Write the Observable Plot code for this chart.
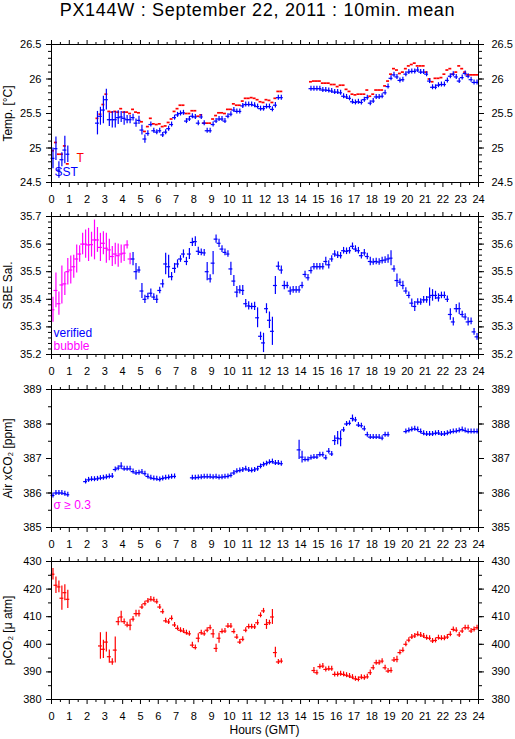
<!DOCTYPE html>
<html><head><meta charset="utf-8">
<script src="https://cdn.jsdelivr.net/npm/d3@7"></script>
<script src="https://cdn.jsdelivr.net/npm/@observablehq/plot@0.6"></script>
<style>
body{margin:0;background:#fff;font-family:"Liberation Sans",Arial,sans-serif;}
#wrap{position:relative;width:515px;height:739px;overflow:hidden;background:#fff}
#title{position:absolute;left:0;width:515px;top:0;line-height:20px;text-align:center;font-size:18px;letter-spacing:0.7px;color:#000}
.panel{position:absolute;left:0}
#xlabel{position:absolute;left:51px;width:427px;text-align:center;top:723px;line-height:14px;font-size:12px;color:#000}
</style></head>
<body><div id="wrap">
<div id="title">PX144W : September 22, 2011 : 10min. mean</div>
<div class="panel" id="p1" style="top:36px"></div>
<div class="panel" id="p2" style="top:208px"></div>
<div class="panel" id="p3" style="top:381px"></div>
<div class="panel" id="p4" style="top:553px"></div>
<div id="xlabel">Hours (GMT)</div>
</div>
<script>
// ---------- data (10-minute means, bin i covers hours [i/6,(i+1)/6)) ----------
const STEP = 1/6;
const hourTicks = [0,1,2,3,4,5,6,7,8,9,10,11,12,13,14,15,16,17,18,19,20,21,22,23,24];
const halfHourTicks = [0.5,1.5,2.5,3.5,4.5,5.5,6.5,7.5,8.5,9.5,10.5,11.5,12.5,13.5,14.5,15.5,16.5,17.5,18.5,19.5,20.5,21.5,22.5,23.5];
const tempTicks = [24.5,25,25.5,26,26.5];
const salTicks = [35.2,35.3,35.4,35.5,35.6,35.7];
const xco2Ticks = [385,386,387,388,389];
const pco2Ticks = [380,390,400,410,420,430];

// Panel 1: SST (blue, start bin 0)
const sstVals = [
24.85,24.99,24.68,24.83,24.97,24.91,
null,null,null,null,null,null,null,null,null,
25.36,25.46,25.55,25.70,25.41,25.41,25.41,25.44,25.45,25.43,25.41,25.41,25.44,25.36,25.40,
25.26,25.13,25.21,25.34,25.25,25.23,25.25,25.19,25.23,25.28,
25.34,25.44,25.48,25.50,25.51,25.39,25.42,25.46,25.45,25.36,
25.45,25.36,25.25,25.25,25.34,25.39,25.42,25.42,25.39,25.46,
25.49,25.55,25.53,25.53,25.61,25.63,25.63,25.63,25.62,25.60,
25.57,25.57,25.60,25.60,25.56,25.62,25.73,25.73,
null,null,null,null,null,null,null,null,null,
25.86,25.86,25.86,25.86,25.84,25.84,25.835,25.825,25.81,25.81,
25.80,25.75,25.74,25.72,25.67,25.66,25.67,25.66,25.70,25.73,
25.65,25.68,25.74,25.74,25.75,25.80,25.89,26.01,26.06,26.03,
25.98,25.99,26.07,26.10,26.11,26.11,26.13,26.10,26.10,26.07,
25.97,25.88,25.88,25.91,25.92,25.92,25.98,26.04,26.07,26.03,
25.97,26.02,26.08,26.04,25.99,25.95,25.95];
const sstSd = [
.15,.17,.12,.10,.20,.12,
null,null,null,null,null,null,null,null,null,
.17,.13,.20,.15,.10,.12,.12,.10,.08,.10,.06,.06,.05,.06,.06,
.07,.06,.04,.03,0,0,0,.03,0,0,
.03,.03,0,0,0,.03,0,0,0,.03,
0,.03,.03,0,0,0,0,0,0,.03,
0,0,0,0,0,0,0,0,0,0,
0,0,0,0,.03,.04,0,0,
null,null,null,null,null,null,null,null,null,
0,0,0,0,0,0,0,0,0,0,
0,0,0,0,0,0,0,0,0,0,
0,0,0,0,0,0,.03,.03,0,0,
0,0,0,0,0,0,0,0,0,0,
0,0,0,0,0,0,0,0,0,0,
0,0,0,0,0,0,0];
// Panel 1: T (red dashes, start bin 0)
const tVals = [
24.96,25.08,24.91,24.91,25.03,24.77,
null,null,null,null,null,null,null,null,null,
25.43,25.49,25.63,25.78,25.53,25.52,25.53,25.52,25.57,25.52,
25.52,25.50,25.56,25.52,25.51,25.38,25.24,25.31,25.43,25.35,
25.34,25.35,25.31,25.32,25.37,25.42,25.53,25.57,25.62,25.62,
25.50,25.50,25.54,25.54,25.46,25.48,25.36,25.36,25.36,25.42,
25.47,25.51,25.51,25.50,25.56,25.56,25.64,25.62,25.62,25.68,
25.72,25.72,25.73,25.72,25.70,
25.67,25.66,25.70,25.69,25.66,25.72,25.82,25.82,
null,null,null,null,null,null,null,null,null,
25.96,25.97,25.97,25.97,25.94,25.94,25.94,25.92,25.92,25.89,
25.91,25.91,25.85,25.82,25.78,25.77,25.78,25.78,25.78,25.84,
25.75,25.78,25.84,25.84,25.84,25.90,25.97,26.07,26.15,26.13,
26.08,26.10,26.15,26.19,26.21,26.23,26.19,26.19,26.19,26.10,
26.00,25.96,26.01,26.01,26.02,26.07,26.13,26.15,26.07,26.10,
26.19,26.15,26.10,26.06,26.06,26.06,26.06];

// Panel 2: salinity, bubble-flagged (magenta, start bin 0)
const salBubbleStart = 0;
const salBubble = [35.362,35.432,35.384,35.452,35.456,35.50,35.506,35.518,35.546,35.564,
35.60,35.60,35.597,35.598,35.615,35.615,35.588,35.603,35.585,35.579,
35.555,35.564,35.558,35.564,35.567,35.597,35.546];
const salBubbleSd = [.045,.063,.042,.069,.042,.048,.051,.042,.051,.03,
.039,.051,.06,.045,.072,.045,.051,.042,.054,.039,
.036,.039,.042,.033,.03,.015,.021];
// Panel 2: salinity, verified (blue, start bin 27)
const salVerifiedStart = 27;
const salVerified = [
35.546,35.50,35.506,35.43,35.40,35.41,35.422,35.408,35.40,35.432,
35.456,35.528,35.518,35.482,35.512,35.528,35.546,35.564,35.537,35.564,
35.606,35.609,35.574,35.57,35.568,35.50,35.474,35.531,35.618,35.603,
35.582,35.57,35.564,35.51,35.466,35.426,35.434,35.432,35.384,35.376,
35.374,35.374,35.333,35.266,
35.242,35.366,35.324,35.284,35.45,35.52,35.506,35.45,35.45,35.43,
35.434,35.434,35.434,35.45,35.49,35.478,35.504,35.518,35.518,35.518,
35.518,35.537,35.525,35.546,35.564,35.56,35.558,35.576,35.574,35.576,
35.592,35.582,35.576,35.558,35.568,35.555,35.537,35.535,35.537,35.535,
35.54,35.542,35.546,35.549,35.51,35.468,35.462,35.45,35.43,35.414,
35.386,35.374,35.39,35.39,35.398,35.398,35.408,35.414,35.414,35.405,
35.414,35.414,35.40,35.345,35.318,35.366,35.366,35.345,35.336,35.318,
35.32,35.282,35.264];
const salVerifiedSd = [
.024,.03,.012,.027,.015,.012,.015,.012,.015,.012,
.015,.039,.042,.015,.018,.015,.012,.015,.015,.02,
.015,.018,.015,.012,.012,.033,.015,.042,.015,.015,
.012,.012,.012,.024,.02,.02,.015,.018,.015,.015,
.012,.015,.036,.015,
.035,.018,.03,.051,.033,.015,.015,.015,.012,.015,
.012,.012,.012,.012,.012,.012,.012,.012,.012,.012,
.012,.015,.015,.012,.012,.012,.012,.012,.012,.012,
.012,.012,.012,.012,.012,.012,.015,.012,.012,.012,
.012,.012,.015,.027,.012,.024,.012,.015,.012,.012,
.015,.018,.012,.012,.012,.012,.033,.021,.015,.015,
.012,.012,.012,.021,.015,.015,.021,.012,.012,.015,
.012,.012,.012];

// Panel 3: air xCO2 (blue, start bin 0)
const xco2Vals = [
385.93,386.00,386.00,386.00,385.98,385.95,
null,null,null,null,null,
386.33,386.38,386.40,386.40,386.41,386.43,386.44,386.46,386.48,386.49,
386.68,386.72,386.78,386.70,386.70,386.70,386.62,386.58,386.59,386.61,
386.56,386.48,386.44,386.42,386.41,386.39,386.42,386.44,386.45,386.47,386.48,
null,null,null,null,null,
386.44,386.44,386.45,386.46,386.47,386.47,386.47,386.46,386.47,386.45,
386.46,386.47,386.48,386.51,386.58,386.63,386.65,386.67,386.70,386.67,
386.65,386.67,386.70,386.77,386.82,386.85,386.89,386.91,386.87,386.87,386.85,
null,null,null,null,null,
387.25,387.04,386.97,386.97,387.02,387.04,387.04,387.11,387.11,387.02,
387.21,387.13,387.52,387.59,387.57,387.83,388.00,388.02,388.16,388.12,
387.97,387.95,387.86,387.69,387.62,387.62,387.62,387.62,387.59,387.69,387.69,
null,null,null,null,null,
387.78,387.81,387.84,387.86,387.84,387.78,387.73,387.71,387.71,387.71,
387.73,387.74,387.71,387.71,387.73,387.76,387.78,387.79,387.81,387.84,
387.81,387.78,387.78,387.78,387.78];
const xco2Sd = [
0,0,0,0,0,0,
null,null,null,null,null,
0,0,0,0,0,0,0,0,0,0,
0,0,.1,0,0,0,0,0,0,0,
0,0,0,0,0,0,0,0,0,0,0,
null,null,null,null,null,
0,0,0,0,0,0,0,0,0,0,
0,0,0,0,0,0,0,0,0,0,
0,0,0,0,0,0,0,0,0,0,0,
null,null,null,null,null,
.28,.17,0,0,0,0,0,0,0,0,
.08,0,.14,.19,.23,0,0,0,.1,0,
0,0,0,0,0,0,0,0,0,0,0,
null,null,null,null,null,
0,0,0,0,0,0,0,0,0,0,
0,0,0,0,0,0,0,0,0,0,
0,0,0,0,0];

// Panel 4: pCO2 (red, start bin 0)
const pco2Vals = [
425.4,421.4,420.8,416.7,418.7,416.3,
null,null,null,null,null,null,null,null,null,null,
399.4,398.2,400.8,395.5,393.6,397.9,408.2,409.9,408.2,407.0,
406.9,409.1,411.1,411.1,413.5,414.7,415.7,416.3,416.1,415.4,
413.5,411.8,408.5,408.1,409.4,407.0,405.8,405.1,404.8,404.2,
403.8,399.7,398.8,402.2,404.2,403.8,405.1,406.0,403.8,398.5,
402.2,404.6,404.8,406.6,406.6,404.6,402.6,400.8,401.8,405.1,
406.4,406.4,406.3,407.8,410.5,
412.1,407.2,407.8,409.9,397.0,393.6,393.9,
null,null,null,null,null,null,null,null,null,null,
390.5,389.7,391.9,392.1,390.9,391.1,391.1,389.1,389.1,389.3,
389.1,388.8,388.5,388.1,387.5,387.3,388.1,387.9,388.2,389.7,
391.5,393.3,393.3,393.9,391.5,390.3,390.5,394.3,394.5,397.0,
397.8,400.0,401.5,402.6,403.0,403.6,403.4,403.0,402.4,402.2,
401.2,401.4,402.4,402.2,402.2,402.6,403.6,405.4,405.1,403.4,
404.8,406.0,406.0,404.8,405.4,406.0];
const pco2Sd = [
2.1,3.0,2.1,4.4,2.9,3.3,
null,null,null,null,null,null,null,null,null,null,
4.8,3.3,3.6,2.4,1.2,4.7,1.5,2.1,1.0,1.0,
2.0,1.0,1.2,1.2,0.8,0,0,1.0,0,0,
0,0,0,0,0,0,0,0,0,0,
0,1.0,0,1.6,0,0,0,0,1.6,1.5,
1.8,0,0,0,0,0,0,0,0,0,
0,0,0,1.0,0,
0.8,1.8,0.8,2.7,1.9,0,0,
null,null,null,null,null,null,null,null,null,null,
1.1,0,0,0,0,0,0,0,0,0,
0,0,0,0,0,0,0,0,0,1.0,
0,0,0,0,0,0,1.0,0,1.2,0,
0,0,0,0,0,0,0,0,0,0,
0,0,0,0,0,0,0,0,0,0,
0,0,0,0,0,0];

// ---------- helpers ----------
const BLUE = "#0000ff", RED = "#ff0000", MAG = "#ff00ff";
const FONT = '"Liberation Sans", Arial, Helvetica, sans-serif';
function steps(a, b, div) { const out = []; for (let v = a; v < b; v++) out.push(Math.round(v / div * 1000) / 1000); return out; }
function toRows(vals, sds, start = 0) {
  const out = [];
  vals.forEach((v, i) => {
    if (v != null) out.push({h: (start + i + 0.5) * STEP, v, sd: (sds && sds[i] != null) ? sds[i] : 0});
  });
  return out;
}
const FH = 138, MT = 8, MB = 25;
function crosses(rows, color, domain, hw = 0.11, w = 1.2) {
  const minH = 2.5 * (domain[1] - domain[0]) / FH;
  return [
    Plot.ruleY(rows, {y: "v", x1: d => d.h - hw, x2: d => d.h + hw, stroke: color, strokeWidth: w}),
    Plot.ruleX(rows, {x: "h", y1: d => d.v - Math.max(d.sd, minH), y2: d => d.v + Math.max(d.sd, minH), stroke: color, strokeWidth: w})
  ];
}
function legend(txt, color, dx, dy) {
  return Plot.text([txt], {frameAnchor: "bottom-left", dx, dy, text: d => d, fill: color, fontSize: 12, textAnchor: "start", lineAnchor: "middle"});
}
function panel(id, {domain, major, minor, label, marks}) {
  const fmt = d => String(d);
  const blank = () => "";
  const svg = Plot.plot({
    width: 515, height: MT + FH + MB,
    marginTop: MT, marginBottom: MB, marginLeft: 51, marginRight: 37,
    style: {background: "none", fontFamily: FONT, fontSize: "11px", color: "#000", overflow: "visible"},
    x: {domain: [0, 24]},
    y: {domain},
    marks: [
      ...marks,
      Plot.frame({stroke: "#000", strokeWidth: 1}),
      Plot.axisX({anchor: "bottom", ticks: hourTicks, tickSize: 5, tickPadding: 8, tickFormat: fmt, label: null, fontSize: 11}),
      Plot.axisX({anchor: "bottom", ticks: halfHourTicks, tickSize: 3, tickFormat: blank, label: null}),
      Plot.axisX({anchor: "top", ticks: hourTicks, tickSize: 5, tickFormat: blank, label: null}),
      Plot.axisX({anchor: "top", ticks: halfHourTicks, tickSize: 3, tickFormat: blank, label: null}),
      Plot.axisY({anchor: "left", ticks: major, tickSize: 5, tickPadding: 5, tickFormat: fmt, label: null, fontSize: 11}),
      Plot.axisY({anchor: "left", ticks: minor, tickSize: 3, tickFormat: blank, label: null}),
      Plot.axisY({anchor: "right", ticks: major, tickSize: 5, tickPadding: 8, tickFormat: fmt, label: null, fontSize: 11}),
      Plot.axisY({anchor: "right", ticks: minor, tickSize: 3, tickFormat: blank, label: null}),
      Plot.text([label], {frameAnchor: "left", dx: -43, rotate: -90, text: d => d, fontSize: 12, textAnchor: "middle", lineAnchor: "middle"})
    ]
  });
  document.getElementById(id).appendChild(svg);
}

// ---------- panels ----------
const d1 = [24.5, 26.5], d2 = [35.2, 35.7], d3 = [385, 389], d4 = [380, 430];
const tRows = toRows(tVals);
panel("p1", {
  domain: d1, major: tempTicks, minor: steps(245, 266, 10), label: "Temp. [°C]",
  marks: [
    Plot.ruleY(tRows, {y: "v", x1: d => d.h - STEP / 2, x2: d => d.h + STEP / 2, stroke: RED, strokeWidth: 1.7}),
    ...crosses(toRows(sstVals, sstSd), BLUE, d1),
    legend("T", RED, 25, -24.5),
    legend("SST", BLUE, 3, -10.5)
  ]
});
panel("p2", {
  domain: d2, major: salTicks, minor: steps(1760, 1786, 50), label: "SBE Sal.",
  marks: [
    ...crosses(toRows(salBubble, salBubbleSd, salBubbleStart), MAG, d2),
    ...crosses(toRows(salVerified, salVerifiedSd, salVerifiedStart), BLUE, d2),
    legend("verified", BLUE, 2, -21.5),
    legend("bubble", MAG, 2, -8)
  ]
});
panel("p3", {
  domain: d3, major: xco2Ticks, minor: steps(770, 779, 2), label: "Air xCO₂ [ppm]",
  marks: [
    ...crosses(toRows(xco2Vals, xco2Sd), BLUE, d3),
    legend("σ ≥ 0.3", MAG, 2, -22.5)
  ]
});
panel("p4", {
  domain: d4, major: pco2Ticks, minor: steps(76, 87, 0.2), label: "pCO₂ [μ atm]",
  marks: [
    ...crosses(toRows(pco2Vals, pco2Sd), RED, d4)
  ]
});
</script>
</body></html>
